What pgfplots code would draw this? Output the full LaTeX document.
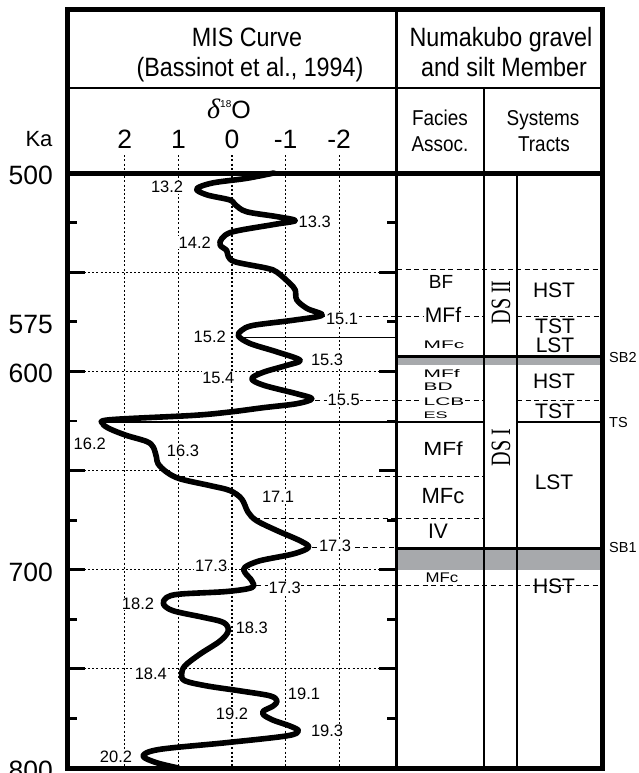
\documentclass[border=0pt]{standalone}
\usepackage{fontspec}
\setmainfont{Liberation Sans}
\newfontfamily\narrowsans[FakeStretch=0.88]{Liberation Sans}
\newfontfamily\widesans[FakeStretch=1.9]{Liberation Sans}
\newfontfamily\midsans[FakeStretch=1.2]{Liberation Sans}
\newfontfamily\dsfont[FakeStretch=0.72]{Liberation Serif}
\newfontfamily\seriffam{Liberation Serif}
\usepackage{pgfplots}
\pgfplotsset{compat=1.18}
\newcommand\fs[2]{\fontsize{#1bp}{#2bp}\selectfont}
\definecolor{bandgray}{RGB}{167,169,172}
\tikzset{
  gridl/.style={black, line width=1.1bp, dash pattern=on 2bp off 2.2bp},
  dashl/.style={black, line width=1.1bp, dash pattern=on 5bp off 3.5bp},
  lab/.style={font=\fs{16.5}{16.5}, fill=white, inner sep=0.6bp},
  small/.style={font=\widesans\fs{11}{11}, anchor=west, inner sep=0.5bp},
  big/.style={font=\fs{21}{21}, inner sep=0.5bp}
}
\begin{document}
\begin{tikzpicture}[x=1bp,y=1bp]

% ---------------- MIS panel ----------------
\begin{axis}[at={(67bp,-173bp)}, anchor=north west, scale only axis,
  width=330bp, height=595bp,
  xmin=-3.08, xmax=3.08, x dir=reverse,
  ymin=500, ymax=800, y dir=reverse,
  clip=false, no marks,
  axis line style={line width=2.5bp},
  xtick={-2,-1,0,1,2}, xticklabels={-2,-1,0,1,2},
  xticklabel pos=upper,
  major x tick style={draw=none},
  xticklabel style={anchor=base, inner sep=0pt, yshift=24.7bp, font=\fs{26.5}{30}},
  ytick={500,550,...,800}, yticklabels={500,,600,,700,,800},
  minor ytick={525,575,...,775},
  extra y ticks={575}, extra y tick labels={575},
  extra y tick style={major tick length=10bp},
  tick align=inside, major tick length=18bp, minor tick length=10bp,
  tick style={black, line width=2.8bp},
  yticklabel style={anchor=east, inner sep=0pt, xshift=-14bp, yshift=-2.5bp, font=\fs{26.5}{30}},
]
% grid
\pgfplotsinvokeforeach{-2,-1,0,1,2}{\draw[gridl] (axis cs:#1,491) -- (axis cs:#1,800);}
\pgfplotsinvokeforeach{550,600,700,750}{\draw[gridl] (axis cs:3.08,#1) -- (axis cs:-3.08,#1);}
\draw[gridl] (axis cs:3.08,650) -- (axis cs:1.16,650);
% boundary lines
\addplot[dashl] coordinates {(-1.7,572.2) (-3.08,572.2)};
\addplot[black, line width=1.3bp] coordinates {(-0.17,582.8) (-3.08,582.8)};
\addplot[dashl] coordinates {(-1.55,614.6) (-3.08,614.6)};
\addplot[black, line width=1.3bp] coordinates {(2.37,625.5) (-3.08,625.5)};
\addplot[dashl] coordinates {(1.12,653) (-3.08,653)};
\addplot[dashl] coordinates {(-0.43,674.2) (-3.08,674.2)};
\addplot[dashl] coordinates {(-1.5,689) (-3.08,689)};
\addplot[dashl] coordinates {(-0.45,708) (-3.08,708)};
% curve
\addplot[black, line width=5.6bp, smooth, tension=0.55, line cap=round, line join=round] coordinates {
(-0.78,500) (-0.27,502.7) (0.36,505) (0.66,508) (0.47,511) (0.04,513.6) (-0.06,516)
(-0.27,519.5) (-0.84,522) (-1.18,524) (-0.77,526) (-0.02,529.6) (0.19,533) (0.22,536.4)
(0.10,539) (0.07,542) (-0.06,544.8) (-0.65,548) (-0.84,550) (-1.08,555.7) (-1.18,559)
(-1.21,564) (-1.40,568.3) (-1.68,571.7) (-1.15,574.2) (-0.40,576.8) (-0.18,579.3)
(-0.12,582.2) (-0.34,586) (-0.84,590.2) (-1.27,594.4) (-1.02,597) (-0.59,600.4)
(-0.37,603.7) (-0.59,607) (-1.21,611.3) (-1.49,613.8) (-1.21,616.3) (-0.59,618.3)
(0.04,620.5) (0.72,622.2) (2.28,624.4) (2.41,626.4) (2.28,629) (1.97,632.3) (1.59,635.4)
(1.47,638.2) (1.41,643.3) (1.38,646.6) (1.22,650.8) (0.97,654.2) (0.41,657.6) (0.04,660.1)
(-0.18,664.3) (-0.30,671) (-0.46,675.3) (-0.84,680.3) (-1.27,685.4) (-1.43,688.7)
(-1.15,692) (-0.52,695.5) (-0.24,698.8) (-0.24,701.4) (-0.37,705.6) (-0.37,709)
(0.10,711) (0.97,712.3) (1.22,714) (1.28,717.3) (1.10,720.7) (0.54,724) (0.16,726.6)
(0.07,730.8) (0.22,735.9) (0.60,742.6) (0.88,748.5) (0.94,752.7) (0.88,756) (0.47,758.6)
(-0.15,761.1) (-0.71,763.6) (-0.84,766.2) (-0.77,768.7) (-0.59,771.2) (-0.59,773.2)
(-0.77,775.9) (-1.08,778.8) (-1.24,781.3) (-1.02,783.8) (0.10,787.2) (1.35,790.6)
(1.66,793.9) (1.41,797.3) (1.00,800)};
% stage labels
\node[lab, anchor=east] at (axis cs:0.897,507.1) {13.2};
\node[lab, anchor=west] at (axis cs:-1.23,524.6) {13.3};
\node[lab, anchor=east] at (axis cs:0.38,535.2) {14.2};
\node[lab, anchor=west] at (axis cs:-1.74,573.4) {15.1};
\node[lab, anchor=east] at (axis cs:0.10,582.7) {15.2};
\node[lab, anchor=west] at (axis cs:-1.46,594.4) {15.3};
\node[lab, anchor=east] at (axis cs:-0.06,603.2) {15.4};
\node[lab, anchor=west] at (axis cs:-1.77,614.6) {15.5};
\node[lab, anchor=east] at (axis cs:2.34,636.4) {16.2};
\node[lab, anchor=west] at (axis cs:1.23,639.9) {16.3};
\node[lab] at (axis cs:-0.86,663.5) {17.1};
\node[lab, anchor=west] at (axis cs:-1.61,688.2) {17.3};
\node[lab, anchor=east] at (axis cs:0.075,698) {17.3};
\node[lab, anchor=west] at (axis cs:-0.67,709.2) {17.3};
\node[lab, anchor=east] at (axis cs:1.44,717.3) {18.2};
\node[lab, anchor=west] at (axis cs:-0.056,729.1) {18.3};
\node[lab, anchor=east] at (axis cs:1.20,752.4) {18.4};
\node[lab, anchor=west] at (axis cs:-1.03,762.8) {19.1};
\node[lab] at (axis cs:0,772.9) {19.2};
\node[lab, anchor=west] at (axis cs:-1.46,781.3) {19.3};
\node[lab, anchor=east] at (axis cs:1.85,794.4) {20.2};
\end{axis}

% ---------------- Stratigraphy panel ----------------
\begin{axis}[at={(397bp,-173bp)}, anchor=north west, scale only axis,
  width=206bp, height=595bp,
  xmin=397, xmax=603, ymin=500, ymax=800, y dir=reverse,
  hide axis, clip=false, no marks]
\addplot[dashl] coordinates {(397,548.5) (603,548.5)};
\addplot[dashl] coordinates {(397,572.2) (483,572.2)};
\addplot[dashl] coordinates {(517,572.2) (603,572.2)};
\addplot[fill=bandgray, draw=none] coordinates {(397,592.4) (603,592.4) (603,596.6) (397,596.6)};
\addplot[black, line width=2.5bp] coordinates {(397,592.4) (603,592.4)};
\addplot[dashl] coordinates {(397,614.6) (483,614.6)};
\addplot[dashl] coordinates {(517,614.6) (603,614.6)};
\addplot[black, line width=1.3bp] coordinates {(397,625.5) (483,625.5)};
\addplot[black, line width=1.3bp] coordinates {(517,625.5) (603,625.5)};
\addplot[dashl] coordinates {(397,653) (483,653)};
\addplot[dashl] coordinates {(397,674.2) (483,674.2)};
\addplot[fill=bandgray, draw=none] coordinates {(397,689.4) (603,689.4) (603,700) (397,700)};
\addplot[black, line width=2.5bp] coordinates {(397,689.4) (603,689.4)};
\addplot[dashl] coordinates {(397,708) (600,708)};
% facies
\node[font=\fs{19}{19}, inner sep=0.5bp] at (axis cs:441,555) {BF};
\node[big, fill=white] at (axis cs:443,571.7) {MFf};
\node[small] at (axis cs:423,586.4) {MFc};
\node[small] at (axis cs:423,601) {MFf};
\node[small] at (axis cs:423,608) {BD};
\node[small, fill=white] at (axis cs:423,615.2) {LCB};
\node[small, font=\widesans\fs{9.5}{9.5}] at (axis cs:423,622.2) {ES};
\node[font=\midsans\fs{19}{19}, inner sep=0.5bp] at (axis cs:443,639) {MFf};
\node[font=\fs{22}{22}, inner sep=0.5bp] at (axis cs:443,663) {MFc};
\node[big] at (axis cs:438,680.6) {IV};
\node[font=\midsans\fs{14}{14}, inner sep=0.5bp] at (axis cs:442,704) {MFc};
% systems tracts
\node[big] at (axis cs:554,559.3) {HST};
\node[big] at (axis cs:555,577.3) {TST};
\node[big] at (axis cs:555,587.1) {LST};
\node[big] at (axis cs:554,604.8) {HST};
\node[big] at (axis cs:555,620) {TST};
\node[big] at (axis cs:554,656) {LST};
\node[big] at (axis cs:554,708.3) {HST};
% sequences
\node[font=\dsfont\fs{28}{28}, rotate=90, inner sep=0] at (axis cs:501,565.2) {DS\,II};
\node[font=\dsfont\fs{28}{28}, rotate=90, inner sep=0] at (axis cs:501,638.4) {DS I};
% surfaces
\node[font=\fs{14.5}{14.5}, anchor=west, inner sep=0] at (axis cs:609,593) {SB2};
\node[font=\fs{14.5}{14.5}, anchor=west, inner sep=0] at (axis cs:609,625.8) {TS};
\node[font=\fs{14.5}{14.5}, anchor=west, inner sep=0] at (axis cs:609,689) {SB1};
\end{axis}

% ---------------- headers ----------------
\node[font=\narrowsans\fs{26.5}{30}, anchor=base] at (247,-46.7) {MIS Curve};
\node[font=\narrowsans\fs{26.5}{30}, anchor=base] at (250,-76.7) {(Bassinot et al., 1994)};
\node[font=\narrowsans\fs{26.5}{30}, anchor=base] at (501,-46.7) {Numakubo gravel};
\node[font=\narrowsans\fs{26.5}{30}, anchor=base] at (504,-76.7) {and silt Member};
\node[font=\narrowsans\fs{21.5}{24}, anchor=base] at (440,-125) {Facies};
\node[font=\narrowsans\fs{21.5}{24}, anchor=base] at (440,-151.7) {Assoc.};
\node[font=\narrowsans\fs{21.5}{24}, anchor=base] at (543,-125) {Systems};
\node[font=\narrowsans\fs{21.5}{24}, anchor=base] at (544,-151.7) {Tracts};
\node[font=\fs{22}{22}, anchor=base] at (39,-146.7) {Ka};
\node[anchor=base, inner sep=0] at (229,-118.3) {{\seriffam\itshape\fs{28}{28}δ}\raisebox{11bp}{\fs{10}{10}18}{\fs{25}{25}O}};

% ---------------- frame ----------------
\draw[line width=5bp] (65,-9.2) -- (605,-9.2);
\draw[line width=5bp] (67.5,-9.2) -- (67.5,-769);
\draw[line width=5bp] (602.5,-9.2) -- (602.5,-769);
\draw[line width=5bp] (65,-768.5) -- (605,-768.5);
\draw[line width=5bp] (65,-173.3) -- (605,-173.3);
\draw[line width=2.5bp] (67,-88) -- (603,-88);
\draw[line width=3bp] (396.7,-9.2) -- (396.7,-769);
\draw[line width=2bp] (483.5,-88) -- (483.5,-769);
\draw[line width=2bp] (516.7,-173) -- (516.7,-769);

\pgfresetboundingbox
\useasboundingbox (0,0) rectangle (639,-773);
\end{tikzpicture}
\end{document}
